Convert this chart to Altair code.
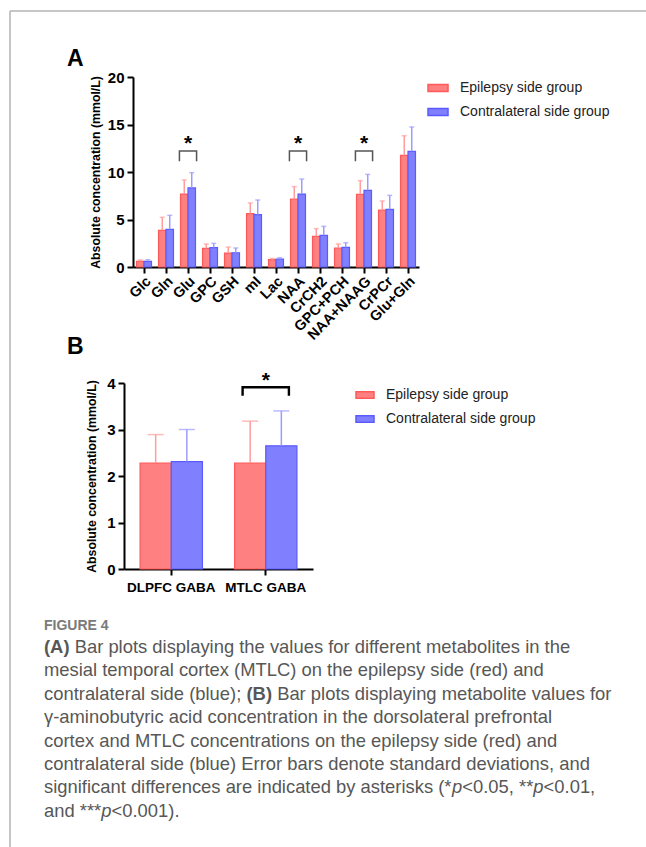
import altair as alt
import pandas as pd

# ---------------- data ----------------
categories_a = ["Glc", "Gln", "Glu", "GPC", "GSH", "mI", "Lac", "NAA", "CrCH2",
                "GPC+PCH", "NAA+NAAG", "CrPCr", "Glu+Gln"]
epi_mean_a = [0.60, 3.86, 7.68, 1.96, 1.47, 5.61, 0.77, 7.16, 3.23, 2.00, 7.65, 6.00, 11.75]
epi_sd_a = [0.14, 1.37, 1.48, 0.46, 0.63, 1.13, 0.13, 1.30, 0.81, 0.42, 1.44, 0.95, 2.07]
con_mean_a = [0.60, 3.96, 8.32, 2.04, 1.50, 5.51, 0.84, 7.68, 3.33, 2.07, 8.07, 6.07, 12.18]
con_sd_a = [0.17, 1.48, 1.61, 0.45, 0.50, 1.54, 0.14, 1.58, 0.95, 0.49, 1.68, 1.47, 2.56]
sig_a = ["Glu", "NAA", "NAA+NAAG"]

categories_b = ["DLPFC GABA", "MTLC GABA"]
epi_mean_b = [2.28, 2.28]
epi_sd_b = [0.61, 0.90]
con_mean_b = [2.31, 2.65]
con_sd_b = [0.69, 0.75]
sig_b = ["MTLC GABA"]

groups = ["Epilepsy side group", "Contralateral side group"]
y_title = "Absolute concentration (mmol/L)"

caption_head = "FIGURE 4"
caption_lines = [
    [("(A)", "bold"), (" Bar plots displaying the values for different metabolites in the", "normal")],
    [("mesial temporal cortex (MTLC) on the epilepsy side (red) and", "normal")],
    [("contralateral side (blue); ", "normal"), ("(B)", "bold"),
     (" Bar plots displaying metabolite values for", "normal")],
    [("\u03b3-aminobutyric acid concentration in the dorsolateral prefrontal", "normal")],
    [("cortex and MTLC concentrations on the epilepsy side (red) and", "normal")],
    [("contralateral side (blue) Error bars denote standard deviations, and", "normal")],
    [("significant differences are indicated by asterisks (*", "normal"), ("p", "italic"),
     ("<0.05, **", "normal"), ("p", "italic"), ("<0.01,", "normal")],
    [("and ***", "normal"), ("p", "italic"), ("<0.001).", "normal")],
]

# ---------------- style ----------------
W, H = 646, 847
FONT = "Liberation Sans"
fill_range = ["#ff8080", "#8080ff"]
stroke_range = ["#ff5a5a", "#5a5aff"]
err_range = ["#ff9c9c", "#9c9cff"]


def long_table(cats, em, es, cm, cs):
    rows = []
    for i, c in enumerate(cats):
        rows.append(dict(cat=c, idx=i, group=groups[0], mean=em[i], upper=em[i] + es[i]))
        rows.append(dict(cat=c, idx=i, group=groups[1], mean=cm[i], upper=cm[i] + cs[i]))
    return pd.DataFrame(rows)


def bracket_table(cats, sig, half, top, leg):
    rows = []
    for s in sig:
        i = cats.index(s)
        for k, (d, yv) in enumerate([(-half, leg), (-half, top), (half, top), (half, leg)]):
            rows.append(dict(bid=s, seq=k, bx=i + d, by=yv))
    return pd.DataFrame(rows)


def star_table(cats, sig, yv):
    return pd.DataFrame([dict(bx=cats.index(s), by=yv) for s in sig])


def panel(df, cats, xr, yr, ydom, pad_in, x_axis, y_axis, legend, cap, br, st,
          br_color, br_width, star_size):
    xs = alt.Scale(domain=cats, range=xr, paddingInner=pad_in, paddingOuter=pad_in / 2)
    ys = alt.Scale(domain=ydom, range=yr, nice=False, zero=True)
    xo = alt.XOffset("group:N", sort=groups, scale=alt.Scale(domain=groups))
    ix = alt.Scale(domain=[-0.5, len(cats) - 0.5], range=xr)
    base = alt.Chart(df)
    bars = base.mark_bar(strokeWidth=1.2).encode(
        x=alt.X("cat:N", sort=cats, scale=xs, axis=x_axis),
        xOffset=xo,
        y=alt.Y("mean:Q", scale=ys, axis=y_axis),
        fill=alt.Fill("group:N", sort=groups, scale=alt.Scale(domain=groups, range=fill_range), legend=legend),
        stroke=alt.Stroke("group:N", sort=groups, scale=alt.Scale(domain=groups, range=stroke_range), legend=legend),
    )
    err = base.mark_rule(strokeWidth=1.5).encode(
        x=alt.X("cat:N", sort=cats, scale=xs, axis=None),
        xOffset=xo,
        y=alt.Y("mean:Q", scale=ys, axis=None),
        y2="upper:Q",
        color=alt.Color("group:N", sort=groups, scale=alt.Scale(domain=groups, range=err_range), legend=None),
    )
    caps = base.mark_tick(thickness=1.5, size=cap, orient="horizontal").encode(
        x=alt.X("cat:N", sort=cats, scale=xs, axis=None),
        xOffset=xo,
        y=alt.Y("upper:Q", scale=ys, axis=None),
        color=alt.Color("group:N", sort=groups, scale=alt.Scale(domain=groups, range=err_range), legend=None),
    )
    brk = alt.Chart(br).mark_line(color=br_color, strokeWidth=br_width, strokeCap="square").encode(
        x=alt.X("bx:Q", scale=ix, axis=None),
        y=alt.Y("by:Q", scale=ys, axis=None),
        detail="bid:N",
        order="seq:Q",
    )
    stars = alt.Chart(st).mark_text(text="*", font=FONT, fontWeight="bold", fontSize=star_size,
                                    color="black", baseline="alphabetic", dy=star_size * 0.57).encode(
        x=alt.X("bx:Q", scale=ix, axis=None),
        y=alt.Y("by:Q", scale=ys, axis=None),
    )
    return [bars, err, caps, brk, stars]


def axis_common(**kw):
    d = dict(domainColor="black", domainWidth=2, tickColor="black", tickWidth=2, tickSize=6,
             labelFont=FONT, labelFontWeight="bold", labelColor="black", grid=False,
             titleFont=FONT, titleFontWeight="bold", titleColor="black", titleFontSize=12.3)
    d.update(kw)
    return alt.Axis(**d)


def legend_at(x, y, w, rowpad):
    return alt.Legend(title=None, orient="none", legendX=x, legendY=y,
                      symbolType="M-1,-0.35H1V0.35H-1Z", symbolSize=w * w, symbolStrokeWidth=1.5,
                      labelFont=FONT, labelFontSize=14, labelColor="#222222",
                      labelOffset=11, rowPadding=rowpad, padding=0, labelLimit=300)


# ---------------- panel A ----------------
A_X = [133, 419]
A_Y = [267, 77]
df_a = long_table(categories_a, epi_mean_a, epi_sd_a, con_mean_a, con_sd_a)
layers_a = panel(
    df_a, categories_a, A_X, A_Y, [0, 20], 0.32,
    axis_common(orient="bottom", offset=A_Y[0] - H, title=None, labelAngle=-45, labelFontSize=14.5,
                labelPadding=1, labelAlign="right", labelBaseline="top"),
    axis_common(orient="left", offset=-A_X[0], values=[0, 5, 10, 15, 20], title=y_title,
                labelFontSize=15, labelPadding=3, titlePadding=5),
    legend_at(427, 77, 20, 6), 5,
    bracket_table(categories_a, sig_a, 0.39, 12.2, 11.2),
    star_table(categories_a, sig_a, 13.6),
    "#555555", 1.5, 21,
)

# ---------------- panel B ----------------
B_X = [124, 313]
B_Y = [569, 383]
df_b = long_table(categories_b, epi_mean_b, epi_sd_b, con_mean_b, con_sd_b)
layers_b = panel(
    df_b, categories_b, B_X, B_Y, [0, 4], 0.34,
    axis_common(orient="bottom", offset=B_Y[0] - H, title=None, labelAngle=0, labelFontSize=13.5,
                labelPadding=5),
    axis_common(orient="left", offset=-B_X[0], values=[0, 1, 2, 3, 4], title=y_title,
                labelFontSize=15, labelPadding=3, titlePadding=8),
    legend_at(355, 385, 18, 7), 16,
    bracket_table(categories_b, sig_b, 0.245, 3.91, 3.75),
    star_table(categories_b, sig_b, 4.18),
    "black", 2.4, 21,
)

# ---------------- frame, panel letters, caption ----------------
one = alt.Data(values=[{"k": 1}])
frame_left = alt.Chart(one).mark_rule(color="#b3b3b3", strokeWidth=1.5).encode(
    x=alt.value(10), y=alt.value(11), y2=alt.value(H))
frame_top = alt.Chart(one).mark_rule(color="#b3b3b3", strokeWidth=1.5).encode(
    x=alt.value(10), x2=alt.value(W), y=alt.value(11))
letter_a = alt.Chart(one).mark_text(text="A", font=FONT, fontWeight="bold", fontSize=23,
                                    align="left", baseline="alphabetic", color="black").encode(
    x=alt.value(67), y=alt.value(66))
letter_b = alt.Chart(one).mark_text(text="B", font=FONT, fontWeight="bold", fontSize=23,
                                    align="left", baseline="alphabetic", color="black").encode(
    x=alt.value(67), y=alt.value(354))

# Arial / Liberation Sans advance widths (per 1000 em)
REG = {" ": 278, "(": 333, ")": 333, "*": 389, ",": 278, "-": 333, ".": 278, ";": 278, "<": 584,
       "\u03b3": 500}
for ch in "0123456789":
    REG[ch] = 556
for ch, w in zip("abcdefghijklmnopqrstuvwxyz",
                 [556, 556, 500, 556, 556, 278, 556, 556, 222, 222, 500, 222, 833, 556, 556, 556,
                  556, 333, 500, 278, 556, 500, 722, 500, 500, 500]):
    REG[ch] = w
for ch, w in zip("ABCDEFGHIJKLMNOPQRSTUVWXYZ",
                 [667, 667, 722, 722, 667, 611, 778, 722, 278, 500, 667, 556, 833, 722, 778, 667,
                  778, 722, 667, 611, 722, 667, 944, 667, 667, 611]):
    REG[ch] = w
BOLD = {"(": 333, ")": 333, "A": 722, "B": 722, " ": 278}

CAP_FS = 18.4
CAP_X = 44
CAP_Y0 = 653
CAP_DY = 23.4


def seg_width(text, style):
    table = BOLD if style == "bold" else REG
    return sum(table.get(c, 556) for c in text) * CAP_FS / 1000.0


seg_rows = []
for li, line in enumerate(caption_lines):
    xcur = CAP_X
    for text, style in line:
        lead = len(text) - len(text.lstrip(" "))
        xcur += lead * REG[" "] * CAP_FS / 1000.0
        core = text.strip(" ")
        seg_rows.append(dict(t=core, x=xcur, y=CAP_Y0 + li * CAP_DY, s=style))
        xcur += seg_width(core, style)
        trail = len(text) - len(text.rstrip(" "))
        xcur += trail * REG[" "] * CAP_FS / 1000.0
seg_df = pd.DataFrame(seg_rows)

cap_layers = []
for style in ["normal", "bold", "italic"]:
    cap_layers.append(
        alt.Chart(seg_df).transform_filter(alt.datum.s == style).mark_text(
            font=FONT, fontSize=CAP_FS, color="#575757", align="left", baseline="alphabetic",
            fontWeight="bold" if style == "bold" else "normal",
            fontStyle="italic" if style == "italic" else "normal",
        ).encode(
            x=alt.X("x:Q", scale=None, axis=None),
            y=alt.Y("y:Q", scale=None, axis=None),
            text="t:N",
        )
    )

head = alt.Chart(one).mark_text(text=caption_head, font=FONT, fontWeight="bold", fontSize=14,
                                color="#7a7a7a", align="left", baseline="alphabetic").encode(
    x=alt.value(CAP_X), y=alt.value(630))

chart = alt.layer(
    frame_left, frame_top, *layers_a, *layers_b, letter_a, letter_b, head, *cap_layers
).resolve_scale(
    x="independent", y="independent", xOffset="independent",
    fill="independent", stroke="independent", color="independent",
).resolve_axis(x="independent", y="independent").resolve_legend(
    fill="independent", stroke="independent", color="independent"
).properties(
    width=W, height=H, padding=0, autosize=alt.AutoSizeParams(type="none"), background="white"
).configure_view(stroke=None)

chart.save("out.html", embed_options={"renderer": "svg", "actions": False})
